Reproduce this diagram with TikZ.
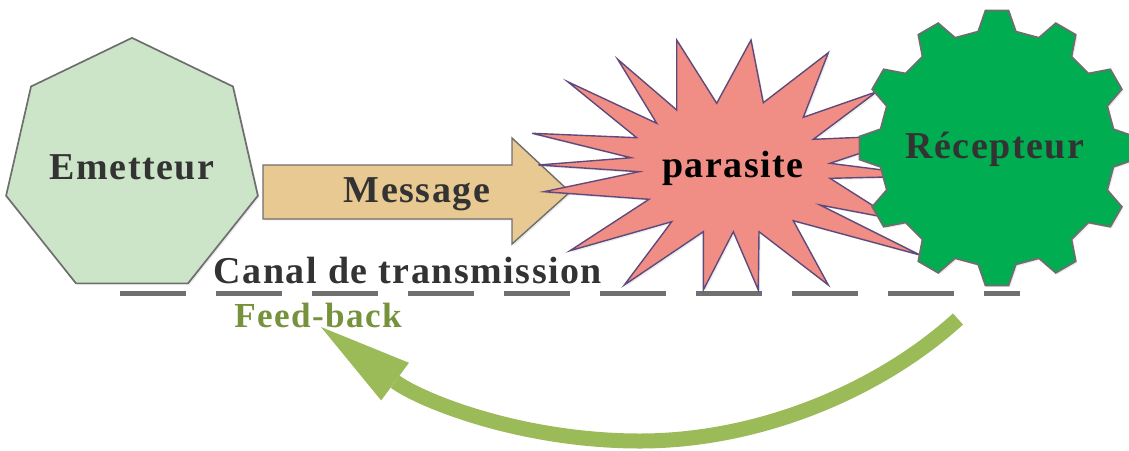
\documentclass[tikz,border=0pt]{standalone}
\usepackage{fontspec}
\setmainfont{Liberation Serif}
\usepackage{tikz}
\usetikzlibrary{shapes.geometric, arrows.meta, shadows}
\definecolor{emetgreen}{RGB}{204,229,200}
\definecolor{msgtan}{RGB}{232,201,146}
\definecolor{starpink}{RGB}{240,142,134}
\definecolor{starline}{RGB}{96,74,123}
\definecolor{gearfill}{RGB}{0,173,80}
\definecolor{bordergray}{RGB}{110,110,110}
\definecolor{textdark}{RGB}{51,51,51}
\definecolor{dashgray}{RGB}{112,112,112}
\definecolor{fbtext}{RGB}{118,146,60}
\definecolor{fbgreen}{RGB}{155,187,89}

\begin{document}
\begin{tikzpicture}[
    x=0.025cm, y=-0.025cm,
    softshadow/.style={drop shadow={shadow xshift=1.2pt, shadow yshift=-1.2pt, opacity=0.15}},
    bigtxt/.style={font=\fontsize{27}{30}\selectfont\bfseries\addfontfeatures{LetterSpace=4},
                   text=textdark, inner sep=0pt},
    emetshape/.style={regular polygon, regular polygon sides=7, minimum size=6.35cm,
                      inner sep=0pt, draw=bordergray, line width=1.2pt, fill=emetgreen, softshadow},
    msgshape/.style={draw=bordergray, line width=1pt, fill=msgtan, softshadow},
    starshape/.style={draw=starline, line width=1pt, fill=starpink, softshadow},
    gearshape/.style={draw=bordergray, line width=1.2pt, fill=gearfill, softshadow},
    canal/.style={draw=dashgray, line width=0.125cm, dash pattern=on 1.65cm off 0.75cm},
    fbarrow/.style={draw=fbgreen, line width=0.375cm,
                    -{Triangle[length=2.3cm, width=1.17cm, line width=0pt]}}
]
    \useasboundingbox (0,0) rectangle (1129,450);

    % Transmission channel
    \draw[canal] (120,293) -- (1020,293);

    % Sender
    \node[emetshape, bigtxt] (emetteur) at (132,167) {Emetteur};

    % Message arrow
    \draw[msgshape] (263,165) -- (512,165) -- (512,138) -- (570,192)
        -- (512,244) -- (512,219) -- (263,219) -- cycle;
    \node[bigtxt, anchor=base] (message) at (417,202) {Message};

    % Noise burst
    \draw[starshape] (676.7,40) -- (716.7,103.3) -- (751,40) -- (763.3,102.7)
        -- (828.3,52.7) -- (803.3,117.3) -- (876.7,91.7) -- (813.3,139.3)
        -- (915,135) -- (830,163.3) -- (930,176) -- (830,178.3)
        -- (894,219) -- (820,205) -- (920,255) -- (793.3,220.7)
        -- (828.3,285) -- (759,231.7) -- (758.3,290) -- (733.3,231.7)
        -- (703.3,290) -- (703.3,231.7) -- (624.3,285) -- (671.7,221.7)
        -- (570,250.7) -- (649,199.3) -- (544,191.7) -- (639,171.7)
        -- (538.3,165) -- (631,157.7) -- (532.3,133.3) -- (636.7,137.7)
        -- (567.7,81.7) -- (656.7,123.3) -- (617.7,59.3) -- (676.7,110) -- cycle;
    \node[bigtxt, text=black, anchor=base] (parasite) at (733,177) {parasite};

    % Receiver gear
    \coordinate (gearc) at (997,148);
    \begin{scope}[shift={(gearc)}]
        \draw[gearshape] (-9.2:118)
            \foreach \a in {0,30,...,330} {
                -- (\a-4.8:138) -- (\a+4.8:138) -- (\a+9.2:118) -- (\a+20.8:118)
            } -- cycle;
    \end{scope}
    \node[bigtxt, anchor=base] (recepteur) at (995,158) {Récepteur};

    % Labels
    \node[bigtxt, anchor=base] (canaltxt) at (408,283) {Canal de transmission};
    \node[bigtxt, text=fbtext, font=\fontsize{25}{28}\selectfont\bfseries\addfontfeatures{LetterSpace=4},
          anchor=base] (feedback) at (318,327) {Feed-back};

    % Feedback arrow
    \coordinate (fbtail) at (958,319);
    \coordinate (fbtip) at (321,327);
    \draw[fbarrow] (fbtail) .. controls (880,390) and (760,441) .. (640,441)
        .. controls (520,441) and (420,400) .. (fbtip);
\end{tikzpicture}
\end{document}
